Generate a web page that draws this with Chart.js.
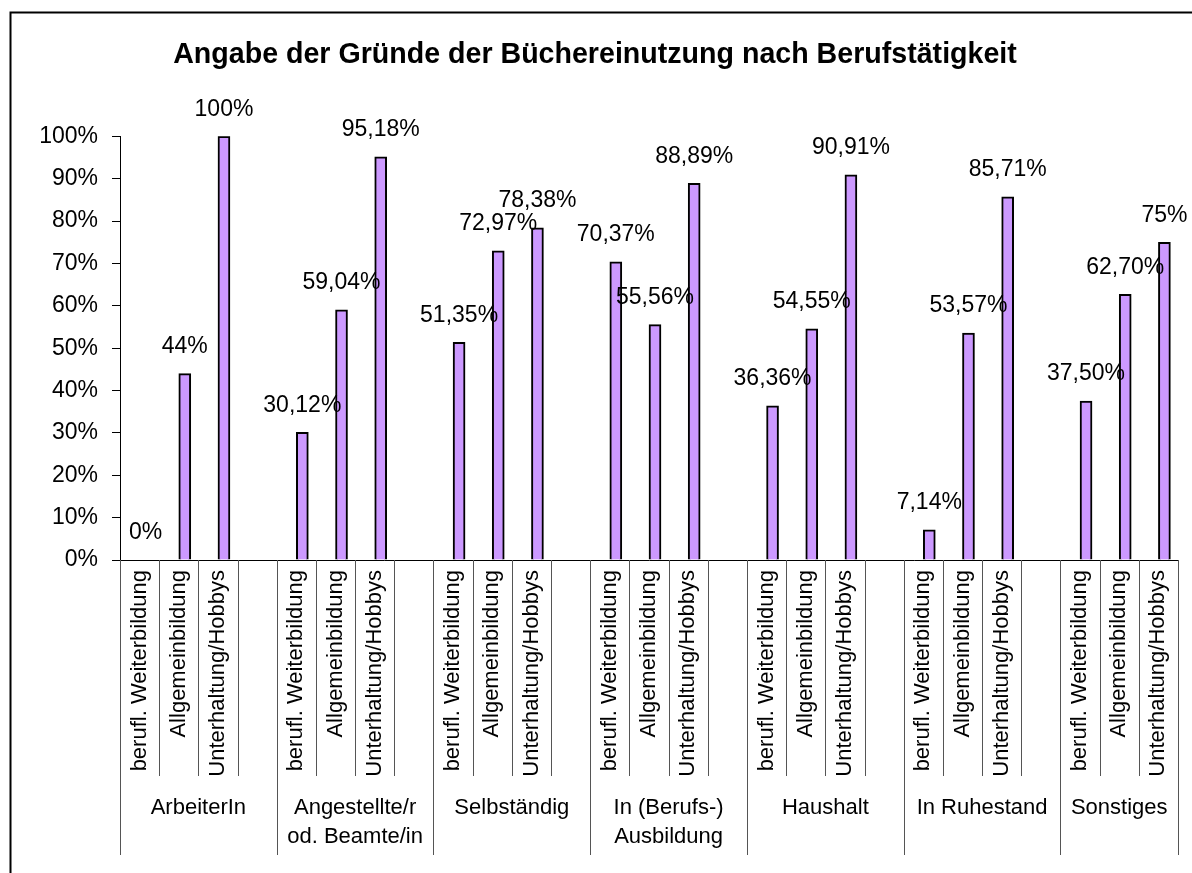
<!DOCTYPE html>
<html>
<head>
<meta charset="utf-8">
<script src="https://cdn.jsdelivr.net/npm/chart.js@4.4.1/dist/chart.umd.min.js"></script>
<style>
body { margin: 0; background: #fff; }
</style>
</head>
<body>
<canvas id="myChart" width="1192" height="873"></canvas>
<script>
var groups = [["ArbeiterIn"], ["Angestellte/r", "od. Beamte/in"], ["Selbständig"], ["In (Berufs-)", "Ausbildung"], ["Haushalt"], ["In Ruhestand"], ["Sonstiges"]];
var reasons = ["berufl. Weiterbildung", "Allgemeinbildung", "Unterhaltung/Hobbys"];
var weiterbildung = [0, 30.12, 51.35, 70.37, 36.36, 7.14, 37.5];
var allgemeinbildung = [44, 59.04, 72.97, 55.56, 54.55, 53.57, 62.7];
var unterhaltung = [100, 95.18, 78.38, 88.89, 90.91, 85.71, 75];
var title = "Angabe der Gründe der Büchereinutzung nach Berufstätigkeit";

// flatten into one category axis, an empty slot after each group
var labels = [], values = [], spacer = [], groupStart = [], groupCount = [];
for (var g = 0; g < groups.length; g++) {
  groupStart.push(labels.length);
  var vals = [weiterbildung[g], allgemeinbildung[g], unterhaltung[g]];
  for (var r = 0; r < reasons.length; r++) {
    labels.push(reasons[r]);
    values.push(vals[r]);
    spacer.push(null);
  }
  if (g < groups.length - 1) {
    labels.push("");
    values.push(null);
    spacer.push(null);
  }
  groupCount.push(labels.length - groupStart[g]);
}

function fmt(v) {
  return (Number.isInteger(v) ? String(v) : v.toFixed(2).replace(".", ",")) + "%";
}

Chart.defaults.font.family = "'Liberation Sans', Arial, sans-serif";
Chart.defaults.color = "#000";

var framePlugin = {
  id: "frame",
  beforeDraw: function(chart) {
    var ctx = chart.ctx;
    ctx.save();
    ctx.fillStyle = "#fff";
    ctx.fillRect(0, 0, chart.width, chart.height);
    ctx.strokeStyle = "#000";
    ctx.lineWidth = 2;
    ctx.strokeRect(10.5, 12.5, 1300, 1000);
    ctx.restore();
  }
};

var labelPlugin = {
  id: "barLabels",
  afterDatasetsDraw: function(chart) {
    var ctx = chart.ctx;
    var meta = chart.getDatasetMeta(1);
    ctx.save();
    ctx.font = "23px 'Liberation Sans', Arial, sans-serif";
    ctx.fillStyle = "#000";
    ctx.textAlign = "center";
    ctx.textBaseline = "middle";
    meta.data.forEach(function(bar, i) {
      if (values[i] == null) return;
      ctx.fillText(fmt(values[i]), bar.x, bar.y - 27);
    });
    ctx.restore();
  }
};

var groupPlugin = {
  id: "groupAxis",
  afterDraw: function(chart) {
    var xs = chart.scales.x;
    var ctx = chart.ctx;
    var n = labels.length;
    var w = xs.getPixelForTick(1) - xs.getPixelForTick(0);
    function edge(i) {
      return i < n ? xs.getPixelForTick(i) - w / 2 : xs.getPixelForTick(n - 1) + w / 2;
    }
    var top = xs.top;
    ctx.save();
    ctx.strokeStyle = "#555";
    ctx.lineWidth = 1;
    for (var i = 0; i <= n; i++) {
      var x = Math.round(edge(i)) + 0.5;
      ctx.beginPath();
      ctx.moveTo(x, top);
      ctx.lineTo(x, top + 216);
      ctx.stroke();
    }
    var outer = groupStart.concat([n]);
    outer.forEach(function(i) {
      var x = Math.round(edge(i)) + 0.5;
      ctx.beginPath();
      ctx.moveTo(x, top);
      ctx.lineTo(x, top + 295);
      ctx.stroke();
    });
    ctx.font = "22px 'Liberation Sans', Arial, sans-serif";
    ctx.fillStyle = "#000";
    ctx.textAlign = "center";
    ctx.textBaseline = "middle";
    for (var g = 0; g < groups.length; g++) {
      var cx = (edge(groupStart[g]) + edge(groupStart[g] + groupCount[g])) / 2;
      groups[g].forEach(function(line, k) {
        ctx.fillText(line, cx, top + 248 + k * 29);
      });
    }
    ctx.restore();
  }
};

var ctx = document.getElementById("myChart").getContext("2d");
var myChart = new Chart(ctx, {
  type: "bar",
  data: {
    labels: labels,
    datasets: [
      {
        label: "spacer",
        data: spacer,
        barThickness: 12
      },
      {
        label: "Anteil",
        data: values,
        backgroundColor: "#CC99FF",
        borderColor: "#000",
        borderWidth: 2,
        barThickness: 12
      }
    ]
  },
  options: {
    responsive: false,
    devicePixelRatio: 1,
    animation: false,
    layout: { padding: { left: 12, right: 14, top: 0, bottom: 18 } },
    plugins: {
      legend: { display: false },
      tooltip: { enabled: false },
      title: {
        display: true,
        text: title,
        color: "#000",
        font: { size: 28.6, weight: "bold" },
        padding: { top: 38, bottom: 64 }
      }
    },
    scales: {
      x: {
        offset: true,
        grid: { display: false, drawTicks: false },
        border: { display: true, color: "#000", width: 1 },
        ticks: {
          autoSkip: false,
          maxRotation: 90,
          minRotation: 90,
          padding: 10,
          font: { size: 22 }
        },
        afterFit: function(scale) {
          scale.height = 295;
          scale.paddingLeft = 0;
          scale.paddingRight = 0;
        }
      },
      y: {
        min: 0,
        max: 100,
        grid: { drawOnChartArea: false, drawTicks: true, tickLength: 8, color: "#000" },
        border: { display: true, color: "#000", width: 1 },
        ticks: {
          stepSize: 10,
          padding: 14,
          font: { size: 23 },
          callback: function(v) { return v + "%"; }
        },
        afterFit: function(scale) { scale.width = 108; }
      }
    }
  },
  plugins: [framePlugin, labelPlugin, groupPlugin]
});
</script>
</body>
</html>
